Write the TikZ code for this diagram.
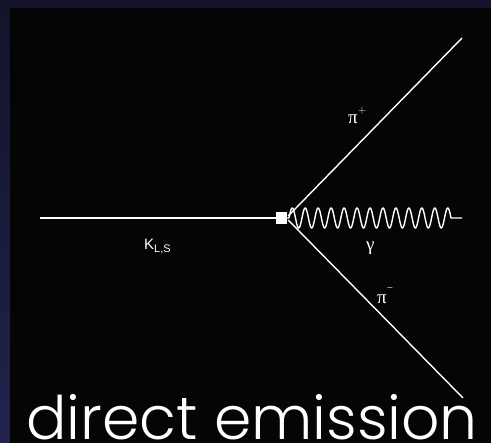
\documentclass[tikz,border=0pt]{standalone}
\usepackage{fontspec}
\setmainfont{Liberation Sans}
\newfontfamily\gothic{Poppins}[UprightFont={* Light}]
\newfontfamily\greek{Liberation Serif}
\usetikzlibrary{calc}
\definecolor{bordertop}{HTML}{13132B}
\definecolor{borderbot}{HTML}{22224C}
\definecolor{inner}{HTML}{050505}
\tikzset{
  line/.style={draw=white, line width=1.4pt},
  lbl/.style={text=white, inner sep=0pt},
}
\begin{document}
\begin{tikzpicture}[x=1pt,y=-1pt]
\shade[top color=bordertop, bottom color=borderbot] (0,0) rectangle (491,443);
\fill[inner] (10,8) rectangle (491,443);
\useasboundingbox (0,0) rectangle (491,443);
\coordinate (k) at (40,218);
\node[fill=white, minimum width=11pt, minimum height=12pt, inner sep=0pt] (v) at (281.5,218) {};
\coordinate (pp) at (462,38);
\coordinate (pm) at (463,398);
\coordinate (g) at (462,218);
\draw[line] (k) -- (v.west);
\draw[line] ($(v.east)+(1,-2)$) -- (pp);
\draw[line] ($(v.east)+(1,2)$) -- (pm);
\draw[line, line join=round] (v.east) -- ++(2,0)
  plot[domain=0:162, samples=400, smooth] ({289+\x},{218-10*sin(\x/12.96*360)})
  -- (g);
\node[lbl, anchor=base west] (kl) at (144,250) {\fontsize{15}{15}\selectfont K\raisebox{-0.3ex}{\fontsize{11}{11}\selectfont L,S}};
\node[lbl, anchor=base west] (ppl) at (348,124) {\fontsize{19}{19}\selectfont\greek π\raisebox{1.2ex}{\fontsize{11}{11}\selectfont\sffamily +}};
\node[lbl, anchor=base west] (pml) at (377,304) {\fontsize{19}{19}\selectfont\greek π\raisebox{1.4ex}{\fontsize{11}{11}\selectfont −}};
\node[lbl, anchor=base west] (gl) at (366,251) {\fontsize{19}{19}\selectfont\greek γ};
\node[lbl, anchor=base west] (title) at (26,440) {\gothic\fontsize{60}{60}\selectfont direct emission};
\end{tikzpicture}
\end{document}
